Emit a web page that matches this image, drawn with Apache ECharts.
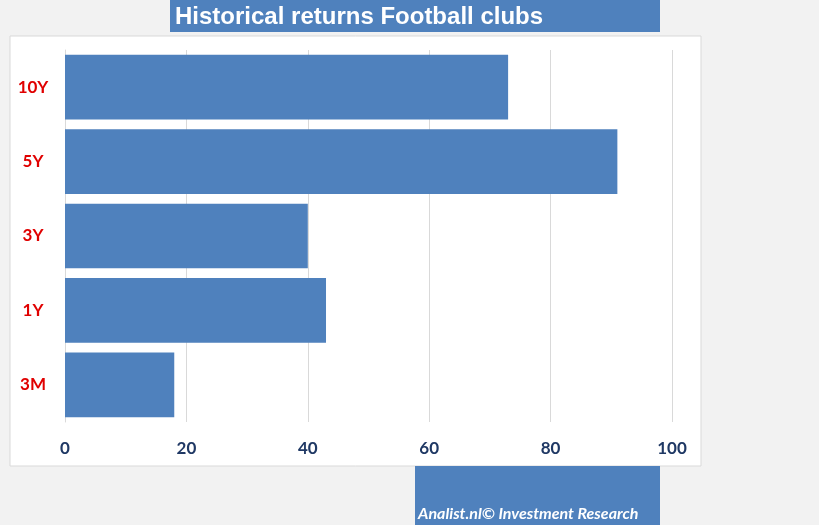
<!DOCTYPE html>
<html>
<head>
<meta charset="utf-8">
<script src="https://cdn.jsdelivr.net/npm/echarts@6/dist/echarts.min.js"></script>
<style>
html,body{margin:0;padding:0;background:#f2f2f2;}
#c{width:819px;height:525px;}
</style>
</head>
<body>
<div id="c"></div>
<script>
const categories = ['10Y', '5Y', '3Y', '1Y', '3M'];
const returns = [73, 91, 40, 43, 18];
const xTicks = [0, 20, 40, 60, 80, 100];
const titleText = 'Historical returns Football clubs';
const footerText = 'Analist.nl\u00A9 Investment Research';

const chart = echarts.init(document.getElementById('c'), null, {renderer: 'canvas'});
chart.setOption({
  backgroundColor: '#f2f2f2',
  animation: false,
  graphic: [
    {type: 'rect', z: -10, shape: {x: 10, y: 36, width: 691, height: 430},
     style: {fill: '#ffffff', stroke: '#d9d9d9', lineWidth: 1}},
    {type: 'rect', z: -5, shape: {x: 170, y: 0, width: 490, height: 32},
     style: {fill: '#4f81bd'}},
    {type: 'text', x: 175, y: 17, style: {text: titleText, fill: '#ffffff',
     font: 'bold 24px "Liberation Sans", Arial, sans-serif', verticalAlign: 'middle'}},
    {type: 'rect', z: -5, shape: {x: 415, y: 466, width: 245, height: 59},
     style: {fill: '#4f81bd'}},
    {type: 'text', x: 418, y: 514, style: {text: footerText, fill: '#ffffff',
     font: 'italic bold 16px Lato, "Open Sans", sans-serif', verticalAlign: 'middle'}}
  ],
  grid: {left: 65, right: 147, top: 50, bottom: 103, containLabel: false},
  xAxis: {
    type: 'value', min: 0, max: 100, interval: 20,
    axisLine: {show: false}, axisTick: {show: false},
    splitLine: {show: true, lineStyle: {color: '#d9d9d9', width: 1}},
    axisLabel: {color: '#1f3864', fontWeight: 'bold', fontSize: 17, fontFamily: 'Lato, sans-serif', margin: 18,
      formatter: v => xTicks.includes(v) ? String(v) : ''}
  },
  yAxis: {
    type: 'category', data: categories, inverse: true,
    axisLine: {show: true, lineStyle: {color: '#d9d9d9'}}, axisTick: {show: false},
    axisLabel: {color: '#e00000', fontWeight: 'bold', fontSize: 17, fontFamily: 'Lato, sans-serif', align: 'center', margin: 32}
  },
  series: [{
    type: 'bar', data: returns, barCategoryGap: '13%',
    itemStyle: {color: '#4f81bd'}
  }]
});
</script>
</body>
</html>
